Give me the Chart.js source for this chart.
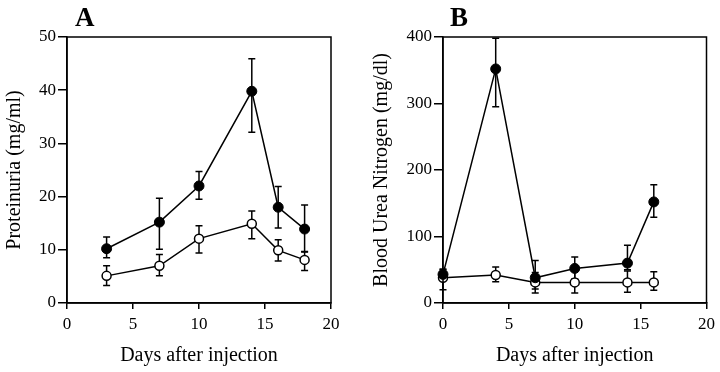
<!DOCTYPE html>
<html>
<head>
<meta charset="utf-8">
<script src="https://cdn.jsdelivr.net/npm/chart.js@4/dist/chart.umd.min.js"></script>
<style>
  body { margin: 0; background: #fff; }
  #wrap { position: relative; width: 720px; height: 372px; overflow: hidden; }
  .panel { position: absolute; top: 0; width: 360px; height: 372px; }
  .tag { position: absolute; font: bold 27px "Liberation Serif", serif; color: #000; line-height: 1; }
</style>
</head>
<body>
<div id="wrap">
  <canvas id="chartA" class="panel" style="left:0" width="360" height="372"></canvas>
  <canvas id="chartB" class="panel" style="left:360px" width="360" height="372"></canvas>
  <div class="tag" style="left:75px;top:4px">A</div>
  <div class="tag" style="left:450px;top:4px">B</div>
</div>
<script>
// Panel A - proteinuria
const daysA = [3, 7, 10, 14, 16, 18];
const protFilled = [10.2, 15.2, 22.0, 39.8, 18.0, 13.9];
const protFilledHi = [12.4, 19.7, 24.7, 45.9, 21.9, 18.4];
const protFilledLo = [8.5, 10.1, 19.5, 32.1, 14.1, 9.6];
const protOpen = [5.1, 7.0, 12.1, 14.9, 9.9, 8.1];
const protOpenHi = [7.0, 9.1, 14.5, 17.3, 11.9, 9.7];
const protOpenLo = [3.3, 5.1, 9.4, 12.1, 7.9, 6.1];

// Panel B - blood urea nitrogen
const daysB = [0, 4, 7, 10, 14, 16];
const bunFilled = [43, 352, 38, 52, 60, 152];
const bunFilledHi = [51, 398, 64, 69, 87, 178];
const bunFilledLo = [36, 295, 21, 36, 50, 129];
const bunOpen = [38, 42, 31, 31, 31, 31];
const bunOpenHi = [50, 54, 46, 50, 48, 47];
const bunOpenLo = [20, 32, 15, 15, 16, 19];

const xTicks = [0, 5, 10, 15, 20];
const serif = '"Liberation Serif", "Times New Roman", serif';

function pts(xs, ys) {
    return xs.map(function (x, i) { return { x: x, y: ys[i] }; });
}

// draws error bars under the markers, positions from the chart's own scales
const errorBars = {
    id: 'errorBars',
    beforeDatasetsDraw: function (chart) {
        const ctx = chart.ctx;
        const xs = chart.scales.x, ys = chart.scales.y;
        ctx.save();
        ctx.strokeStyle = '#000';
        ctx.lineWidth = 1.5;
        chart.data.datasets.forEach(function (ds) {
            if (!ds.errHi) return;
            ds.data.forEach(function (p, i) {
                const px = xs.getPixelForValue(p.x);
                const top = ys.getPixelForValue(ds.errHi[i]);
                const bot = ys.getPixelForValue(ds.errLo[i]);
                ctx.beginPath();
                ctx.moveTo(px, top); ctx.lineTo(px, bot);
                ctx.moveTo(px - 3.5, top); ctx.lineTo(px + 3.5, top);
                ctx.moveTo(px - 3.5, bot); ctx.lineTo(px + 3.5, bot);
                ctx.stroke();
            });
        });
        ctx.restore();
    }
};

// closes the plot box on the top and right
const frame = {
    id: 'frame',
    afterDraw: function (chart) {
        const a = chart.chartArea, ctx = chart.ctx;
        ctx.save();
        ctx.strokeStyle = '#000';
        ctx.lineWidth = 1.5;
        ctx.strokeRect(a.left, a.top, a.right - a.left, a.bottom - a.top);
        ctx.restore();
    }
};

function makeChart(id, cfg) {
    return new Chart(document.getElementById(id), {
        type: 'line',
        data: {
            datasets: [{
                data: pts(cfg.days, cfg.filled),
                errHi: cfg.filledHi, errLo: cfg.filledLo,
                borderColor: '#000', borderWidth: 1.5,
                pointRadius: 5, pointBackgroundColor: '#000', pointBorderColor: '#000',
                pointBorderWidth: 1, tension: 0, clip: false
            }, {
                data: pts(cfg.days, cfg.open),
                errHi: cfg.openHi, errLo: cfg.openLo,
                borderColor: '#000', borderWidth: 1.5,
                pointRadius: 4.5, pointBackgroundColor: '#fff', pointBorderColor: '#000',
                pointBorderWidth: 1.5, tension: 0, clip: false
            }]
        },
        options: {
            responsive: false,
            animation: false,
            layout: { padding: { top: 37, right: cfg.padRight, left: 0, bottom: 0 } },
            plugins: { legend: { display: false }, tooltip: { enabled: false } },
            scales: {
                x: {
                    type: 'linear', min: 0, max: 20,
                    afterBuildTicks: function (s) { s.ticks = xTicks.map(function (v) { return { value: v }; }); },
                    afterFit: function (s) { s.height = 69; },
                    ticks: { color: '#000', font: { family: serif, size: 17 }, padding: 5 },
                    grid: { drawOnChartArea: false, tickLength: 6, color: '#000', lineWidth: 1.5 },
                    border: { color: '#000', width: 1.5 },
                    title: { display: true, text: 'Days after injection', color: '#000',
                             font: { family: serif, size: 20 }, padding: { top: 0, bottom: 4 } }
                },
                y: {
                    type: 'linear', min: 0, max: cfg.yMax,
                    afterBuildTicks: function (s) { s.ticks = cfg.yTicks.map(function (v) { return { value: v }; }); },
                    afterFit: function (s) { s.width = cfg.yWidth; },
                    ticks: { color: '#000', font: { family: serif, size: 17 }, padding: 2 },
                    grid: { drawOnChartArea: false, tickLength: 9, color: '#000', lineWidth: 1.5 },
                    border: { color: '#000', width: 1.5 },
                    title: { display: true, text: cfg.yTitle, color: '#000',
                             font: { family: serif, size: 20 }, padding: { top: cfg.yTitlePad, bottom: 0 } }
                }
            }
        },
        plugins: [errorBars, frame]
    });
}

makeChart('chartA', {
    days: daysA, filled: protFilled, filledHi: protFilledHi, filledLo: protFilledLo,
    open: protOpen, openHi: protOpenHi, openLo: protOpenLo,
    yMax: 50, yTicks: [0, 10, 20, 30, 40, 50], yTitle: 'Proteinuria (mg/ml)',
    yWidth: 67, yTitlePad: 3, padRight: 29
});

makeChart('chartB', {
    days: daysB, filled: bunFilled, filledHi: bunFilledHi, filledLo: bunFilledLo,
    open: bunOpen, openHi: bunOpenHi, openLo: bunOpenLo,
    yMax: 400, yTicks: [0, 100, 200, 300, 400], yTitle: 'Blood Urea Nitrogen (mg/dl)',
    yWidth: 83, yTitlePad: 10, padRight: 11
});
</script>
</body>
</html>
